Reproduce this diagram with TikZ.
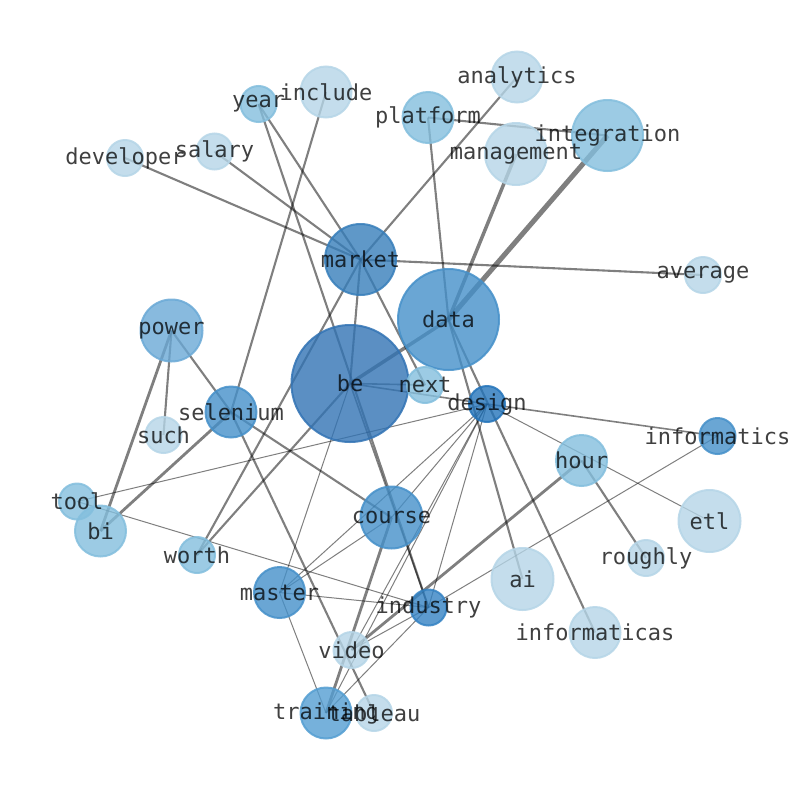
\documentclass[tikz,border=0pt]{standalone}
\usepackage{fontspec}
\setmonofont{DejaVu Sans Mono}
\pgfdeclarelayer{bg}
\pgfsetlayers{bg,main}
\definecolor{cA}{RGB}{181,213,231}
\definecolor{cB}{RGB}{131,190,221}
\definecolor{cC}{RGB}{106,169,214}
\definecolor{cT}{RGB}{84,158,210}
\definecolor{cD}{RGB}{69,144,201}
\definecolor{cI}{RGB}{52,130,195}
\definecolor{cM}{RGB}{55,126,186}
\definecolor{cE}{RGB}{50,115,180}
\definecolor{cG}{RGB}{36,116,186}
\begin{document}
\begin{tikzpicture}[x=1pt,y=-1pt,
  vtx/.style={circle,inner sep=0pt,outer sep=0pt,line width=2pt,fill opacity=0.8,draw opacity=0.85},
  vA/.style={vtx,fill=cA,draw=cA},
  vB/.style={vtx,fill=cB,draw=cB},
  vC/.style={vtx,fill=cC,draw=cC},
  vT/.style={vtx,fill=cT,draw=cT},
  vD/.style={vtx,fill=cD,draw=cD},
  vI/.style={vtx,fill=cI,draw=cI},
  vM/.style={vtx,fill=cM,draw=cM},
  vE/.style={vtx,fill=cE,draw=cE},
  vG/.style={vtx,fill=cG,draw=cG},
  r18/.style={minimum size=36pt},
  r25/.style={minimum size=51pt},
  r31/.style={minimum size=62pt},
  r35/.style={minimum size=71pt},
  r50/.style={minimum size=101pt},
  r58/.style={minimum size=117pt},
  lbl/.style={font=\fontsize{22}{22}\selectfont\ttfamily,text=black,text opacity=0.75,inner sep=0pt},
  eth/.style={black,opacity=0.5,line width=1pt},
  emd/.style={black,opacity=0.5,line width=1.6pt},
  enr/.style={black,opacity=0.5,line width=2.1pt},
  etk/.style={black,opacity=0.5,line width=2.8pt},
  etx/.style={black,opacity=0.5,line width=3.5pt},
  ehg/.style={black,opacity=0.5,line width=5pt}]
\useasboundingbox (0,0) rectangle (794,790);
% nodes (circles)
\node[vA,r25] (include) at (326,92) {};
\node[vB,r18] (year) at (258.5,104) {};
\node[vA,r18] (developer) at (125,158) {};
\node[vA,r18] (salary) at (214.5,151.5) {};
\node[vA,r25] (analytics) at (517,77) {};
\node[vB,r25] (platform) at (428,117.5) {};
\node[vB,r35] (integration) at (607.5,135.5) {};
\node[vA,r31] (management) at (516,154) {};
\node[vM,r35] (market) at (360.5,259.5) {};
\node[vA,r18] (average) at (703,275) {};
\node[vD,r50] (data) at (448.5,319.5) {};
\node[vC,r31] (power) at (171.5,330.5) {};
\node[vE,r58] (be) at (350,383.5) {};
\node[vB,r18] (next) at (425,385) {};
\node[vG,r18] (design) at (487,404) {};
\node[vD,r25] (selenium) at (231,412) {};
\node[vA,r18] (such) at (163.5,435) {};
\node[vD,r18] (informatics) at (717.5,436) {};
\node[vB,r25] (hour) at (581.5,460.5) {};
\node[vB,r18] (tool) at (77,501.5) {};
\node[vB,r25] (bi) at (100.5,531) {};
\node[vA,r31] (etl) at (709.5,521) {};
\node[vD,r31] (course) at (391.5,517.5) {};
\node[vA,r18] (roughly) at (646,558) {};
\node[vB,r18] (worth) at (197,555) {};
\node[vA,r31] (ai) at (522.5,579) {};
\node[vD,r25] (master) at (279.5,592.5) {};
\node[vI,r18] (industry) at (428.5,607.5) {};
\node[vA,r25] (informaticas) at (595,632.5) {};
\node[vA,r18] (video) at (351.5,650) {};
\node[vT,r25] (training) at (326,713) {};
\node[vA,r18] (tableau) at (374,713) {};
% edges
\begin{pgfonlayer}{bg}
\draw[enr] (developer.center) -- (market.center);
\draw[enr] (salary.center) -- (market.center);
\draw[enr] (year.center) -- (market.center);
\draw[enr] (year.center) -- (industry.center);
\draw[enr] (include.center) -- (selenium.center);
\draw[enr] (analytics.center) -- (market.center);
\draw[enr] (platform.center) -- (integration.center);
\draw[enr] (platform.center) -- (data.center);
\draw[ehg] (integration.center) -- (data.center);
\draw[etx] (management.center) -- (data.center);
\draw[enr] (market.center) -- (average.center);
\draw[enr] (market.center) -- (worth.center);
\draw[enr] (market.center) -- (be.center);
\draw[enr] (market.center) -- (next.center);
\draw[etx] (data.center) -- (be.center);
\draw[enr] (data.center) -- (ai.center);
\draw[enr] (data.center) -- (informaticas.center);
\draw[enr] (power.center) -- (such.center);
\draw[etk] (power.center) -- (bi.center);
\draw[enr] (power.center) -- (selenium.center);
\draw[etk] (selenium.center) -- (bi.center);
\draw[enr] (selenium.center) -- (course.center);
\draw[enr] (selenium.center) -- (tableau.center);
\draw[emd] (be.center) -- (next.center);
\draw[emd] (be.center) -- (design.center);
\draw[emd] (design.center) -- (informatics.center);
\draw[enr] (be.center) -- (worth.center);
\draw[eth] (be.center) -- (master.center);
\draw[emd] (be.center) -- (industry.center);
\draw[eth] (tool.center) -- (design.center);
\draw[eth] (tool.center) -- (industry.center);
\draw[eth] (design.center) -- (master.center);
\draw[eth] (design.center) -- (course.center);
\draw[eth] (design.center) -- (video.center);
\draw[eth] (design.center) -- (training.center);
\draw[eth] (design.center) -- (industry.center);
\draw[eth] (design.center) -- (etl.center);
\draw[enr] (hour.center) -- (roughly.center);
\draw[etk] (hour.center) -- (video.center);
\draw[eth] (informatics.center) -- (industry.center);
\draw[eth] (industry.center) -- (training.center);
\draw[eth] (industry.center) -- (video.center);
\draw[eth] (master.center) -- (industry.center);
\draw[eth] (master.center) -- (course.center);
\draw[eth] (master.center) -- (training.center);
\draw[etk] (course.center) -- (training.center);
\end{pgfonlayer}
% labels
\foreach \n in {include,year,developer,salary,analytics,platform,integration,management,market,average,data,power,be,next,design,selenium,such,informatics,hour,tool,bi,etl,course,roughly,worth,ai,master,industry,informaticas,video,training,tableau}
  \node[lbl] (l-\n) at (\n.center) {\n};
\end{tikzpicture}
\end{document}
